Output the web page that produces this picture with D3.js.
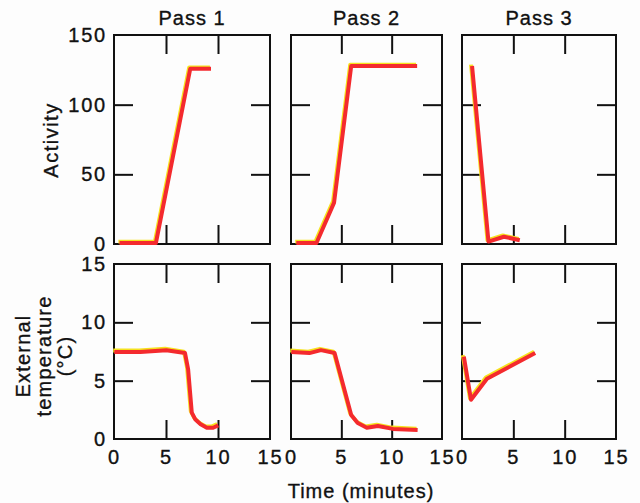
<!DOCTYPE html>
<html>
<head>
<meta charset="utf-8">
<script src="https://cdn.jsdelivr.net/npm/d3@7"></script>
<style>
  html, body { margin: 0; padding: 0; background: #fdfdfd; }
  svg { display: block; }
  text { font-family: "Liberation Sans", Arial, Helvetica, sans-serif; fill: #111; stroke: #111; stroke-width: 0.35px; }
</style>
</head>
<body>
<svg id="chart" width="640" height="503"></svg>
<script>
// ---- data (time in minutes) ----
const passTitles = ["Pass 1", "Pass 2", "Pass 3"];
const timeTicks = [0, 5, 10, 15];
const activityTicks = [0, 50, 100, 150];
const tempTicks = [0, 5, 10, 15];

const activityPass1 = [[0.5, 1], [4.0, 1], [7.3, 126], [9.3, 126]];
const activityPass2 = [[0.5, 1], [2.5, 1], [4.25, 30], [5.95, 128], [12.5, 128]];
const activityPass3 = [[0.95, 128], [2.55, 2], [4.05, 5.5], [5.6, 3]];

const tempPass1 = [[0, 7.5], [2.5, 7.5], [5.0, 7.65], [6.8, 7.4], [7.1, 6.0], [7.45, 2.3],
                   [7.8, 1.7], [8.3, 1.3], [8.9, 1.0], [9.5, 1.0], [10.0, 1.2]];
const tempPass2 = [[0, 7.5], [1.8, 7.4], [2.95, 7.65], [4.3, 7.4], [5.95, 2.1], [6.6, 1.4],
                   [7.5, 1.0], [8.6, 1.15], [10.1, 0.9], [12.55, 0.8]];
const tempPass3 = [[0.15, 7.1], [0.85, 3.4], [2.4, 5.2], [7.1, 7.4]];

const activitySeries = [activityPass1, activityPass2, activityPass3];
const tempSeries = [tempPass1, tempPass2, tempPass3];

// ---- layout ----
const svg = d3.select("#chart");
const cols = [[114, 270], [291, 442], [462, 616]];
const rows = [
  { top: 35, bottom: 244, domain: [0, 150], ticks: activityTicks, inner: [50, 100], series: activitySeries },
  { top: 264, bottom: 439, domain: [0, 15], ticks: tempTicks, inner: [5, 10], series: tempSeries }
];
const tickLen = 19;

rows.forEach((row, ri) => {
  cols.forEach((c, ci) => {
    const x = d3.scaleLinear().domain([0, 15]).range(c);
    const y = d3.scaleLinear().domain(row.domain).range([row.bottom, row.top]);
    const g = svg.append("g");

    // inward ticks on all four sides
    const addTicks = (axis, tx, ty) => {
      const a = g.append("g").attr("transform", `translate(${tx},${ty})`).call(axis);
      a.select(".domain").remove();
      a.selectAll(".tick line").attr("stroke", "#111").attr("stroke-width", 2);
    };
    addTicks(d3.axisBottom(x).tickValues([5, 10]).tickSize(tickLen).tickFormat(""), 0, row.top);
    addTicks(d3.axisTop(x).tickValues([5, 10]).tickSize(tickLen).tickFormat(""), 0, row.bottom);
    addTicks(d3.axisRight(y).tickValues(row.inner).tickSize(tickLen).tickFormat(""), c[0], 0);
    addTicks(d3.axisLeft(y).tickValues(row.inner).tickSize(tickLen).tickFormat(""), c[1], 0);

    // frame
    g.append("rect")
      .attr("x", c[0]).attr("y", row.top)
      .attr("width", c[1] - c[0]).attr("height", row.bottom - row.top)
      .attr("fill", "none").attr("stroke", "#111").attr("stroke-width", 2);

    // data line: yellow edge + red core
    const line = d3.line().x(d => x(d[0])).y(d => y(d[1]));
    const data = row.series[ci];
    g.append("path").datum(data).attr("d", line)
      .attr("transform", "translate(-0.8,-1)")
      .attr("fill", "none").attr("stroke", "#f6e21e").attr("stroke-width", 3.8)
      .attr("stroke-linejoin", "round").attr("stroke-linecap", "butt");
    g.append("path").datum(data).attr("d", line)
      .attr("transform", "translate(0.3,0.4)")
      .attr("fill", "none").attr("stroke", "#f42a2e").attr("stroke-width", 4)
      .attr("stroke-linejoin", "round").attr("stroke-linecap", "butt");

    // y tick labels on first column
    if (ci === 0) {
      const ya = g.append("g").attr("transform", `translate(${c[0]},0)`)
        .call(d3.axisLeft(y).tickValues(row.ticks).tickSize(0).tickPadding(7));
      ya.select(".domain").remove();
      ya.selectAll("text")
        .style("font-family", '"Liberation Sans", Arial, sans-serif')
        .attr("font-size", 20).attr("letter-spacing", "1.8px").attr("fill", "#111");
    }
    // x tick labels on bottom row
    if (ri === 1) {
      const xa = g.append("g").attr("transform", `translate(0,${row.bottom})`)
        .call(d3.axisBottom(x).tickValues(timeTicks).tickSize(0).tickPadding(11));
      xa.select(".domain").remove();
      xa.selectAll("text")
        .style("font-family", '"Liberation Sans", Arial, sans-serif')
        .attr("font-size", 20).attr("letter-spacing", "1.8px").attr("fill", "#111");
    }
    // titles
    if (ri === 0) {
      svg.append("text").attr("x", (c[0] + c[1]) / 2).attr("y", 25)
        .attr("text-anchor", "middle").attr("font-size", 20).attr("letter-spacing", "1px")
        .text(passTitles[ci]);
    }
  });
});

// axis titles
svg.append("text")
  .attr("transform", "translate(58,140) rotate(-90)")
  .attr("text-anchor", "middle").attr("font-size", 20).attr("letter-spacing", "1.5px")
  .text("Activity");

const tempLabel = ["External", "temperature", "(°C)"];
const tempX = [23, 44, 65];
tempLabel.forEach((t, i) => {
  svg.append("text")
    .attr("transform", `translate(${tempX[i]},356) rotate(-90)`)
    .attr("dy", "0.35em")
    .attr("text-anchor", "middle").attr("font-size", 20).attr("letter-spacing", "1.2px")
    .text(t);
});

svg.append("text").attr("x", 361).attr("y", 498)
  .attr("text-anchor", "middle").attr("font-size", 20).attr("letter-spacing", "1px")
  .text("Time (minutes)");
</script>
</body>
</html>
